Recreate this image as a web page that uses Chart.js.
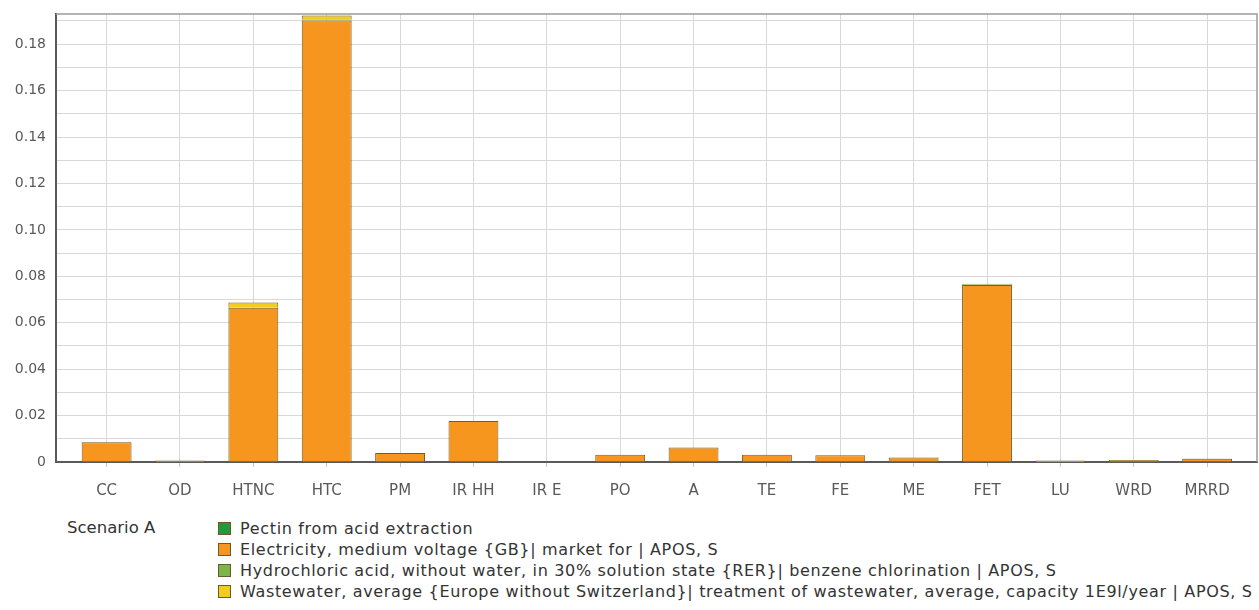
<!DOCTYPE html>
<html>
<head>
<meta charset="utf-8">
<script src="https://cdn.jsdelivr.net/npm/chart.js@4/dist/chart.umd.min.js"></script>
<style>
  html, body { margin: 0; padding: 0; background: #ffffff; }
  #wrap { position: relative; width: 1259px; height: 610px; overflow: hidden; }
  #chart { position: absolute; left: 0; top: 0; }
  #scenario { position: absolute; left: 67px; top: 518px; font: 16.5px 'DejaVu Sans', sans-serif; color: #333; }
  #legend { position: absolute; left: 218px; top: 518px; font: 16px 'DejaVu Sans', sans-serif; color: #333; letter-spacing: 0.66px; }
  .row { height: 21px; line-height: 21px; white-space: nowrap; display: flex; align-items: center; }
  .sw { width: 11px; height: 11px; border: 1px solid #6b5a2a; margin-right: 9px; flex: none; }
</style>
</head>
<body>
<div id="wrap">
  <canvas id="chart" width="1259" height="505"></canvas>
  <div id="scenario">Scenario A</div>
  <div id="legend"></div>
</div>
<script>
// Impact categories along the x axis
const categories = ['CC', 'OD', 'HTNC', 'HTC', 'PM', 'IR HH', 'IR E', 'PO', 'A', 'TE', 'FE', 'ME', 'FET', 'LU', 'WRD', 'MRRD'];

// Contribution of each process to every impact category
const pectin       = [0, 0, 0, 0, 0, 0, 0, 0, 0, 0, 0, 0, 0, 0, 0, 0];
const electricity  = [0.0085, 0.0001, 0.0664, 0.1902, 0.0039, 0.0177, 0, 0.0031, 0.0063, 0.0031, 0.0029, 0.0019, 0.0763, 0.0001, 0.0002, 0.0014];
const hydrochloric = [0, 0, 0.0001, 0.0004, 0, 0, 0, 0, 0, 0, 0, 0, 0.0003, 0, 0, 0];
const wastewater   = [0.0001, 0.0005, 0.0022, 0.0017, 0, 0, 0, 0, 0, 0, 0, 0, 0.0002, 0.0006, 0.0007, 0.0001];

// Series names
const seriesNames = [
  'Pectin from acid extraction',
  'Electricity, medium voltage {GB}| market for | APOS, S',
  'Hydrochloric acid, without water, in 30% solution state {RER}| benzene chlorination | APOS, S',
  'Wastewater, average {Europe without Switzerland}| treatment of wastewater, average, capacity 1E9l/year | APOS, S'
];

// Gridline values on the y axis (labelled every second one)
const yTickValues = [0, 0.01, 0.02, 0.03, 0.04, 0.05, 0.06, 0.07, 0.08, 0.09, 0.10, 0.11, 0.12, 0.13, 0.14, 0.15, 0.16, 0.17, 0.18, 0.19];

const colors = ['#1f9a3c', '#f6961e', '#7cb648', '#f3cd1c'];
const seriesValues = [pectin, electricity, hydrochloric, wastewater];

const toPoints = (vals) => vals.map((v, i) => ({ x: i, y: v }));

const frame = {
  id: 'frame',
  afterDraw(chart) {
    const { ctx, chartArea: { left, top, right, bottom } } = chart;
    ctx.save();
    ctx.strokeStyle = '#9a9a9a';
    ctx.lineWidth = 1.5;
    ctx.beginPath();
    ctx.moveTo(left, top);
    ctx.lineTo(right, top);
    ctx.lineTo(right, bottom);
    ctx.stroke();
    ctx.restore();
  }
};

const chart = new Chart(document.getElementById('chart'), {
  type: 'bar',
  data: {
    datasets: seriesValues.map((vals, k) => ({
      label: seriesNames[k],
      data: toPoints(vals),
      backgroundColor: colors[k],
      borderColor: '#7a5c22',
      borderWidth: 1,
      barPercentage: 0.68,
      categoryPercentage: 1
    }))
  },
  options: {
    responsive: false,
    animation: false,
    layout: { padding: { top: 14, right: 2, left: 0, bottom: 0 } },
    plugins: { legend: { display: false }, tooltip: { enabled: false } },
    scales: {
      x: {
        type: 'linear',
        stacked: true,
        offset: false,
        min: -0.69,
        max: 15.68,
        afterBuildTicks: (axis) => { axis.ticks = categories.map((_, i) => ({ value: i })); },
        afterFit: (scale) => { scale.height = 43; scale.paddingLeft = 0; scale.paddingRight = 0; },
        ticks: {
          callback: (v) => categories[v],
          autoSkip: false,
          maxRotation: 0,
          color: '#595959',
          font: { family: 'DejaVu Sans', size: 15 },
          padding: 15
        },
        grid: { offset: false, color: '#d8d8d8', lineWidth: 1, tickLength: 5, tickColor: '#c8c8c8' },
        border: { color: '#5a5a5a', width: 2 }
      },
      y: {
        stacked: true,
        min: 0,
        max: 0.193,
        afterBuildTicks: (axis) => { axis.ticks = yTickValues.map(v => ({ value: v })); },
        afterFit: (scale) => { scale.width = 56; scale.paddingTop = 0; scale.paddingBottom = 0; },
        ticks: {
          callback: (v) => {
            const h = Math.round(v * 100);
            if (h % 2 !== 0) return '';
            return h === 0 ? '0' : v.toFixed(2);
          },
          color: '#595959',
          font: { family: 'DejaVu Sans', size: 14 },
          padding: 10
        },
        grid: { color: '#d8d8d8', lineWidth: 1, drawTicks: false },
        border: { color: '#5a5a5a', width: 2 }
      }
    }
  },
  plugins: [frame]
});

// Legend below the plot, built from the chart's datasets
const legend = document.getElementById('legend');
chart.data.datasets.forEach((ds) => {
  const row = document.createElement('div');
  row.className = 'row';
  const sw = document.createElement('span');
  sw.className = 'sw';
  sw.style.background = ds.backgroundColor;
  const txt = document.createElement('span');
  txt.textContent = ds.label;
  row.appendChild(sw);
  row.appendChild(txt);
  legend.appendChild(row);
});
</script>
</body>
</html>
